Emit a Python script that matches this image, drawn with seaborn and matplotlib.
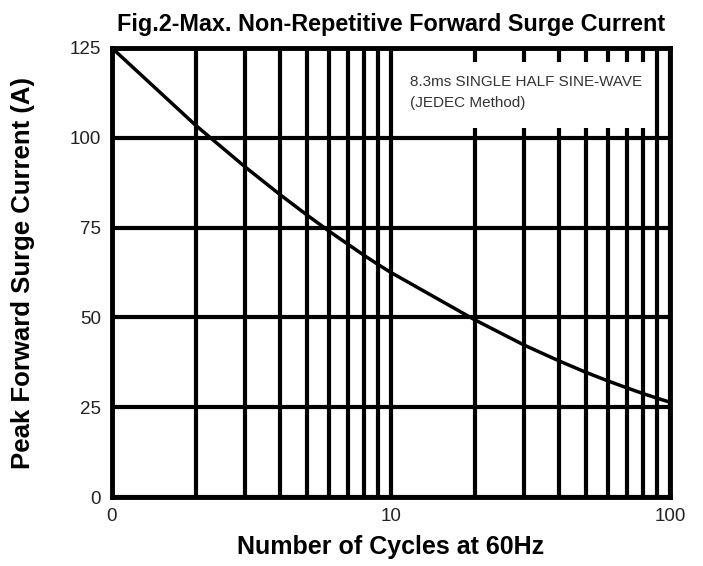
import matplotlib
matplotlib.use("Agg")
import matplotlib.pyplot as plt
import seaborn as sns
from matplotlib.ticker import LogLocator, FixedLocator, FixedFormatter, NullFormatter
from matplotlib.patches import Rectangle

cycles = [1, 2, 3, 4, 5, 6, 7, 8, 9, 10, 20, 30, 40, 50, 60, 70, 80, 90, 100]
surge_current = [125, 103.4, 91.9, 84.2, 78.5, 74.0, 70.4, 67.3, 64.7, 62.5,
                 49.3, 42.3, 37.9, 34.7, 32.3, 30.4, 28.8, 27.5, 26.4]
x_ticks = [1, 10, 100]
x_tick_labels = ["0", "10", "100"]
y_ticks = [0, 25, 50, 75, 100, 125]

sns.set_theme(style="white")
plt.rcParams["font.family"] = ["Liberation Sans", "DejaVu Sans"]
plt.rcParams["text.color"] = "black"
plt.rcParams["axes.labelcolor"] = "black"

fig = plt.figure(figsize=(7.03, 5.66), dpi=100)
ax = fig.add_axes([0.1593, 0.1219, 0.7937, 0.7933])

sns.lineplot(x=cycles, y=surge_current, color="black", linewidth=2.5, ax=ax, zorder=4)

ax.set_xscale("log")
ax.set_xlim(1, 100)
ax.set_ylim(0, 125)

ax.xaxis.set_major_locator(FixedLocator(x_ticks))
ax.xaxis.set_major_formatter(FixedFormatter(x_tick_labels))
ax.xaxis.set_minor_locator(LogLocator(base=10, subs=range(2, 10)))
ax.xaxis.set_minor_formatter(NullFormatter())
ax.set_yticks(y_ticks)

ax.grid(which="both", axis="x", color="black", linewidth=3, zorder=1)
ax.grid(which="major", axis="y", color="black", linewidth=3, zorder=1)
ax.set_axisbelow(True)

for s in ax.spines.values():
    s.set_color("black")
    s.set_linewidth(3.5)
    s.set_zorder(5)

ax.tick_params(which="both", length=0, labelsize=13.5, labelcolor="#222222", pad=8)

# white label box over the grid
ax.add_patch(Rectangle((10.42, 102.7), 85.5 - 10.42, 121.1 - 102.7,
                       facecolor="white", edgecolor="none", zorder=2))
ax.text(11.7, 115.5, "8.3ms SINGLE HALF SINE-WAVE", fontsize=11, color="#333333",
        va="center", ha="left", zorder=3)
ax.text(11.7, 109.7, "(JEDEC Method)", fontsize=11, color="#333333",
        va="center", ha="left", zorder=3)

ax.set_title("Fig.2-Max. Non-Repetitive Forward Surge Current", fontsize=16.8,
             fontweight="bold", pad=12)
ax.set_xlabel("Number of Cycles at 60Hz", fontsize=18, fontweight="bold")
ax.set_ylabel("Peak Forward Surge Current (A)", fontsize=18.5, fontweight="bold")
ax.xaxis.set_label_coords(0.5, -0.085)
ax.yaxis.set_label_coords(-0.138, 0.5)

fig.savefig("out.png", dpi=100)
